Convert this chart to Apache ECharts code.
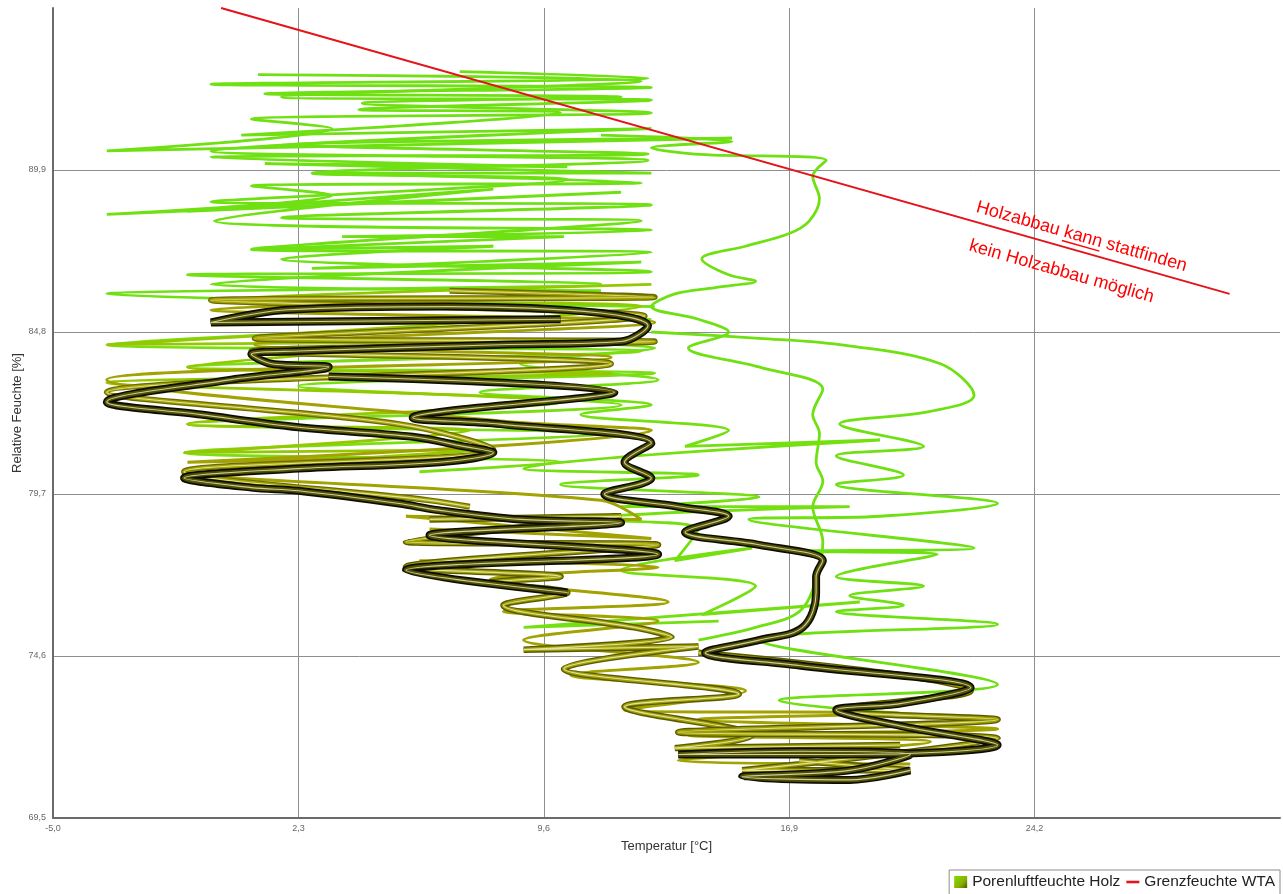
<!DOCTYPE html>
<html><head><meta charset="utf-8">
<script src="https://cdn.jsdelivr.net/npm/echarts@6/dist/echarts.min.js"></script>
<style>html,body{margin:0;padding:0;background:#fff}#c{width:1283px;height:894px}</style>
</head><body><div id="c"></div>
<script>
// ---- axis ticks ----
const xTicks = [-5.0, 2.3, 9.6, 16.9, 24.2];
const yTicks = [69.5, 74.6, 79.7, 84.8, 89.9];
const xRange = [-5.0, 31.5];
const yRange = [69.5, 95.0];

// ---- Grenzfeuchte WTA ----
const wtaLine = [[0, 95.0], [30, 86.0]];

// ---- Porenluftfeuchte Holz (trajectory strands, [T °C, RH %]) ----
const greenTop = [[7.1,93.0],[12.7,92.8],[-0.3,92.6],[12.8,92.5],[1.3,92.3],[11.9,92.2],[4.2,92.0],[12.8,91.7],[0.9,91.5],[3.3,91.2],[-3.4,90.5],[15.2,90.9],[1.8,90.7],[12.7,90.4],[-0.3,90.3],[10.3,90.0],[1.3,90.1],[12.8,89.8],[2.7,89.8],[12.5,89.5],[0.9,89.4],[3.3,89.1],[-3.4,88.5],[11.9,89.2],[-1.0,88.6],[8.1,89.3],[-0.2,88.3],[12.8,88.0],[3.6,87.8],[10.2,87.8],[0.9,87.4],[8.1,87.5],[1.8,87.1],[12.8,86.7],[-1.0,86.6],[11.3,86.3],[-3.4,86.0],[12.9,85.6]];
const greenTop2 = [[1.1,92.9],[12.5,92.7],[1.8,92.2],[12.8,92.1],[4.1,91.8],[10.1,91.7],[0.6,91.0],[12.8,91.2],[-0.3,90.5],[12.7,90.2],[2.7,89.8],[10.3,89.6],[-0.3,88.9],[12.8,88.8],[1.8,88.4],[12.5,88.3],[0.9,87.4],[12.8,87.3],[2.7,86.8],[12.5,87.0],[-0.3,86.3],[11.3,86.1]];
const greenLeft = [[12.8,85.2],[-3.4,84.4],[12.5,84.2],[-1.0,83.7],[12.9,83.5],[2.3,83.1],[11.9,82.5],[-1.0,81.9],[11.3,81.6],[-1.1,81.0],[10.1,80.7],[5.9,80.4]];
const greenRight = [[11.3,91.0],[15.2,90.8],[12.8,90.6],[14.1,90.4],[18.0,90.2],[17.6,89.7],[17.8,89.0],[17.5,88.3],[16.9,87.9],[15.6,87.5],[14.3,87.1],[15.1,86.6],[15.9,86.4],[14.7,86.2],[13.5,86.0],[12.8,85.6],[14.2,85.2],[15.1,84.8],[13.9,84.3],[16.0,83.7],[17.9,83.0],[17.6,82.2],[17.8,81.6],[17.7,80.7],[17.9,80.1],[17.6,79.3],[17.9,78.2],[17.7,77.0],[17.2,76.0],[15.9,75.5],[14.2,75.1]];
const greenLobes = [[12.8,84.8],[16.0,84.6],[18.4,84.4],[21.4,83.8],[22.4,82.8],[21.1,82.3],[18.4,81.9],[20.9,81.2],[18.3,80.9],[20.3,80.3],[18.3,80.0],[23.1,79.4],[19.6,79.0],[15.7,78.9],[22.4,78.0],[17.2,77.9],[21.3,77.8],[18.3,77.1],[20.9,76.8],[18.7,76.5],[20.3,76.2],[18.3,76.0],[23.1,75.6],[16.0,75.1],[23.1,73.7],[16.6,73.2],[23.1,72.6]];
const greenMid = [[7.4,84.5],[12.9,84.3],[8.9,83.8],[13.0,83.3],[7.7,82.9],[12.8,82.5],[10.7,82.2],[15.1,81.7],[13.8,81.2],[19.6,81.4],[9.0,80.5],[14.2,80.3],[10.1,80.0],[16.0,79.6],[11.9,79.3],[18.7,79.3],[10.7,78.9],[14.2,78.6],[13.5,77.6],[15.8,78.0],[11.9,77.3],[15.9,76.8],[14.3,75.9],[19.0,76.3],[9.0,75.5],[14.8,75.7]];
const yellowGreen = [[12.8,86.3],[-0.3,85.8],[12.5,85.6],[-3.4,84.4],[8.3,84.5],[-1.0,83.7],[11.6,83.5],[-3.4,83.2],[10.1,82.6],[-1.0,81.9],[7.4,81.7],[-1.1,81.0],[8.0,81.1],[2.3,80.7]];
const oliveLeft = [[12.5,85.9],[-0.3,85.5],[12.9,85.1],[1.0,84.4],[11.6,84.0],[-3.4,83.3],[8.3,82.0],[12.8,81.7],[-1.0,80.7],[7.7,80.9],[-1.0,80.4],[11.3,79.5],[12.5,78.9],[5.5,79.0],[12.8,78.3],[6.2,78.6]];
const oliveLower2 = [[5.9,77.6],[13.0,77.4],[8.0,77.0],[13.3,76.3],[8.4,76.0],[13.0,75.7],[9.0,75.1],[14.2,74.4],[10.4,74.0],[15.6,73.5],[12.0,72.9],[20.2,72.8],[14.2,72.6],[23.1,72.3],[13.9,72.1],[21.1,71.9],[13.6,71.3],[20.5,71.2]];
const oliveUpper = [[6.8,86.1],[12.9,85.9],[-0.3,85.8],[12.6,85.3],[1.0,84.6],[12.9,84.5],[0.9,84.2],[11.6,83.8],[-3.4,82.9],[5.3,81.9],[8.1,81.1],[-1.1,80.4],[6.2,79.5],[7.4,79.3]];
const oliveLower = [[6.2,78.9],[11.9,79.0],[5.5,78.2],[13.0,78.1],[5.5,77.4],[10.1,77.1],[8.0,76.9],[10.3,76.6],[8.4,76.2],[12.3,75.5],[13.4,75.2],[9.0,74.8],[14.2,74.9],[10.2,74.2],[15.4,73.4],[12.0,73.0],[15.8,72.1],[13.5,71.7],[20.2,71.8]];
const oliveRight = [[14.2,74.7],[22.3,73.5],[18.3,72.9],[23.1,72.6],[13.6,72.2],[23.1,72.0],[15.5,71.0],[20.5,71.0],[17.2,71.3]];
const blackUpper = [[10.1,85.2],[-0.3,85.1],[2.0,85.5],[6.8,85.6],[11.3,85.4],[12.7,85.0],[11.9,84.5],[8.3,84.4],[2.3,84.2],[0.9,84.1],[1.5,83.8],[3.2,83.7],[0.3,83.3],[-3.4,82.6],[-0.6,82.2],[2.3,81.8],[5.7,81.5],[7.2,81.2],[8.1,81.0],[6.5,80.7],[2.3,80.5],[-1.1,80.2],[0.9,79.9],[2.3,79.8],[5.3,79.4],[6.4,79.2],[8.9,78.9],[11.9,78.8],[6.2,78.4],[13.0,77.8],[5.5,77.3],[10.3,76.6]];
const blackLower = [[3.2,83.4],[11.7,82.9],[5.7,82.1],[8.3,81.9],[12.8,81.3],[12.0,80.7],[12.8,80.2],[11.4,79.7],[13.6,79.3],[15.1,79.0],[13.8,78.5],[16.0,78.1],[17.9,77.6],[17.7,77.1],[17.7,76.6],[17.3,75.5],[16.0,75.1],[14.4,74.7],[17.2,74.3],[22.3,73.6],[20.2,73.1],[18.3,72.9],[20.2,72.4],[23.1,71.8],[18.7,71.5],[13.6,71.5],[17.2,71.6],[20.5,71.5],[18.7,71.0],[15.5,70.8],[18.7,70.7],[20.5,71.0]];

// ---- annotation anchors (data coords) ----
const noteAbove = [25.6, 87.8];
const noteBelow = [25.0, 86.7];

const HOLZ = 'Porenluftfeuchte Holz';
const WTA = 'Grenzfeuchte WTA';
const FONT = '"Liberation Sans", Arial, sans-serif';
const fmt = v => v.toFixed(1).replace('.', ',');

const series = [];
function thin(data, color, width) {
  series.push({name: HOLZ, type: 'line', data, smooth: 0.35, symbol: 'none', silent: true,
    lineStyle: {color, width}, itemStyle: {color}, emphasis: {disabled: true}, animation: false});
}
function tube(data, edge, body, hi, w, bw) {
  thin(data, edge, w);
  thin(data, body, bw);
  thin(data, hi, 1.1);
}
const GREEN = '#6fe012';
thin(greenTop, GREEN, 2.8);
thin(greenTop2, GREEN, 2.8);
thin(greenRight, GREEN, 2.8);
thin(greenLobes, GREEN, 2.8);
thin(greenMid, '#74e010', 2.8);
thin(greenLeft, '#7ade10', 2.8);
thin(yellowGreen, '#94c800', 2.8);
thin(oliveLeft, '#a2a200', 3);
thin(oliveLower2, '#a2a200', 3);
tube(oliveUpper, '#6a6a00', '#a4a400', '#e2e2a4', 6, 3.6);
tube(oliveLower, '#5a5a00', '#a0a000', '#e2e2a4', 6.5, 3.8);
tube(oliveRight, '#5a5a00', '#a0a000', '#e2e2a4', 6.5, 3.8);
tube(blackUpper, '#0e0e00', '#505006', '#cfcf96', 8, 4.6);
tube(blackLower, '#0e0e00', '#505006', '#cfcf96', 8, 4.6);
series.push({name: WTA, type: 'line', data: wtaLine, symbol: 'none', silent: true, z: 5,
  lineStyle: {color: '#e3141b', width: 2}, itemStyle: {color: '#e3141b'}, animation: false});

const chart = echarts.init(document.getElementById('c'));
const axisCommon = {
  type: 'value',
  axisLine: {show: true, onZero: false, lineStyle: {color: '#6a6a6a', width: 2}},
  splitLine: {show: true, lineStyle: {color: '#8e8e8e', width: 1}},
  nameTextStyle: {fontFamily: FONT, fontSize: 13, color: '#333'},
  nameLocation: 'middle',
  nameMoveOverlap: false
};
chart.setOption({
  backgroundColor: '#fff',
  animation: false,
  grid: {left: 53, right: 3, top: 8, bottom: 76, containLabel: false, outerBoundsMode: 'none'},
  xAxis: Object.assign({}, axisCommon, {
    min: xRange[0], max: xRange[1], name: 'Temperatur [°C]', nameGap: 22,
    axisTick: {show: false, customValues: xTicks},
    axisLabel: {customValues: xTicks, formatter: fmt, fontFamily: FONT, fontSize: 9, color: '#666', margin: 6}
  }),
  yAxis: Object.assign({}, axisCommon, {
    min: yRange[0], max: yRange[1], name: 'Relative Feuchte [%]', nameGap: 29,
    axisTick: {show: false, customValues: yTicks},
    axisLabel: {customValues: yTicks, formatter: fmt, fontFamily: FONT, fontSize: 9, color: '#666', margin: 7}
  }),
  legend: {
    right: 3, top: 870, itemWidth: 13, itemHeight: 12, itemGap: 6,
    padding: [4, 5, 6, 5], borderColor: '#8c8c8c', borderWidth: 1,
    selectedMode: false,
    textStyle: {fontFamily: FONT, fontSize: 15.5, color: '#222'},
    data: [
      {name: HOLZ, icon: 'rect', itemStyle: {color: new echarts.graphic.LinearGradient(0, 0, 1, 1, [
        {offset: 0, color: '#7ee000'}, {offset: 0.6, color: '#8ab000'}, {offset: 1, color: '#4a5a00'}])}},
      {name: WTA, icon: 'path://M0,0L16,0L16,3.2L0,3.2Z', itemStyle: {color: '#e3141b'}}
    ]
  },
  series
});

// ---- rotated annotations along the WTA line ----
const a = chart.convertToPixel({gridIndex: 0}, wtaLine[0]);
const b = chart.convertToPixel({gridIndex: 0}, wtaLine[1]);
const rot = -Math.atan2(b[1] - a[1], b[0] - a[0]);
const p1 = chart.convertToPixel({gridIndex: 0}, noteAbove);
const p2 = chart.convertToPixel({gridIndex: 0}, noteBelow);
const NOTE_FONT = '18px "Liberation Sans", Arial';
const ctx = document.createElement('canvas').getContext('2d');
ctx.font = NOTE_FONT;
const t1 = 'Holzabbau kann stattfinden';
const wAll = ctx.measureText(t1).width;
const wPre = ctx.measureText('Holzabbau ').width;
const wK = ctx.measureText('kann').width;
const red = '#ff0000';
chart.setOption({
  graphic: [
    {type: 'group', x: p1[0], y: p1[1], rotation: rot, children: [
      {type: 'text', style: {text: t1, fill: red, font: NOTE_FONT, align: 'center', verticalAlign: 'middle'}},
      {type: 'line', shape: {x1: -wAll / 2 + wPre, y1: 9, x2: -wAll / 2 + wPre + wK, y2: 9}, style: {stroke: red, lineWidth: 1.4}}
    ]},
    {type: 'group', x: p2[0], y: p2[1], rotation: rot, children: [
      {type: 'text', style: {text: 'kein Holzabbau möglich', fill: red, font: NOTE_FONT, align: 'center', verticalAlign: 'middle'}}
    ]}
  ]
});
</script></body></html>
